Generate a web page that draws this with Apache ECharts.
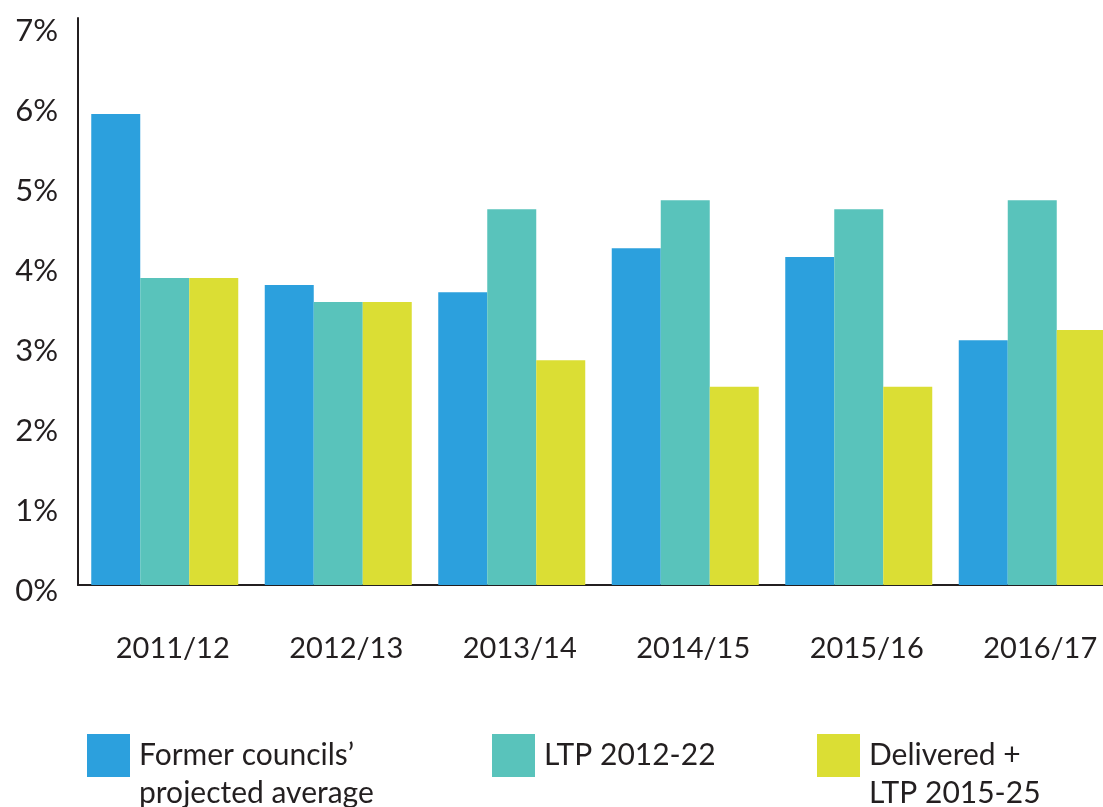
<!DOCTYPE html>
<html>
<head>
<meta charset="utf-8">
<script src="https://cdn.jsdelivr.net/npm/echarts@6/dist/echarts.min.js"></script>
<style>
  html, body { margin: 0; padding: 0; background: #fff; overflow: hidden; }
  /* the last bar runs past the right edge in the original, so the chart is a bit wider than the window */
  #chart { width: 1119px; height: 807px; }
</style>
</head>
<body>
<div id="chart"></div>
<script>
// data
var years = ["2011/12", "2012/13", "2013/14", "2014/15", "2015/16", "2016/17"];
var formerCouncils = [5.89, 3.75, 3.66, 4.21, 4.1, 3.06];
var ltp2012 = [3.84, 3.54, 4.7, 4.81, 4.7, 4.81];
var delivered2015 = [3.84, 3.54, 2.81, 2.48, 2.48, 3.19];
var seriesNames = ["Former councils\u2019\nprojected average", "LTP 2012-22", "Delivered +\nLTP 2015-25"];

var textColor = "#231f20";
var font = "Lato";

var myChart = echarts.init(document.getElementById("chart"));

// one legend per item; two-line names get an empty first line so line one sits beside the square
function legendAt(name, left, twoLines) {
  return {
    data: [name],
    left: left,
    top: twoLines ? 698.5 : 734,
    padding: 0,
    itemWidth: 43,
    itemHeight: 43,
    itemGap: 9,
    icon: "rect",
    selectedMode: false,
    formatter: function (n) {
      return twoLines ? "\n" + n : n;
    },
    textStyle: {
      fontFamily: font,
      fontSize: 30,
      color: textColor,
      lineHeight: 38,
      padding: [0, 0, 0, 4]
    }
  };
}

var option = {
  animation: false,
  color: ["#2ca0dd", "#59c3bb", "#dbde34"],
  grid: {
    left: 78,
    right: 0,
    top: 18,
    bottom: 222,
    containLabel: false
  },
  legend: [
    legendAt(seriesNames[0], 87, true),
    legendAt(seriesNames[1], 492, false),
    legendAt(seriesNames[2], 817, true)
  ],
  xAxis: {
    type: "category",
    data: years,
    axisLine: { lineStyle: { color: textColor, width: 2 } },
    axisTick: { show: false },
    axisLabel: {
      fontFamily: font,
      fontSize: 29,
      color: textColor,
      margin: 49,
      padding: [0, 0, 0, 16]
    }
  },
  yAxis: {
    type: "value",
    min: 0,
    max: 7.09,
    interval: 1,
    splitLine: { show: false },
    axisTick: { show: false },
    axisLine: { show: true, lineStyle: { color: textColor, width: 2 } },
    axisLabel: {
      margin: 20,
      formatter: function (v) {
        return Number.isInteger(v) ? "{p|" + v + "%}" : "";
      },
      rich: {
        p: {
          fontFamily: font,
          fontSize: 31,
          color: textColor,
          padding: [12, 0, 0, 0]
        }
      }
    }
  },
  series: [
    { name: seriesNames[0], type: "bar", data: formerCouncils, barWidth: 49, barGap: 0 },
    { name: seriesNames[1], type: "bar", data: ltp2012, barWidth: 49, barGap: 0 },
    { name: seriesNames[2], type: "bar", data: delivered2015, barWidth: 49, barGap: 0 }
  ]
};

myChart.setOption(option);
</script>
</body>
</html>
